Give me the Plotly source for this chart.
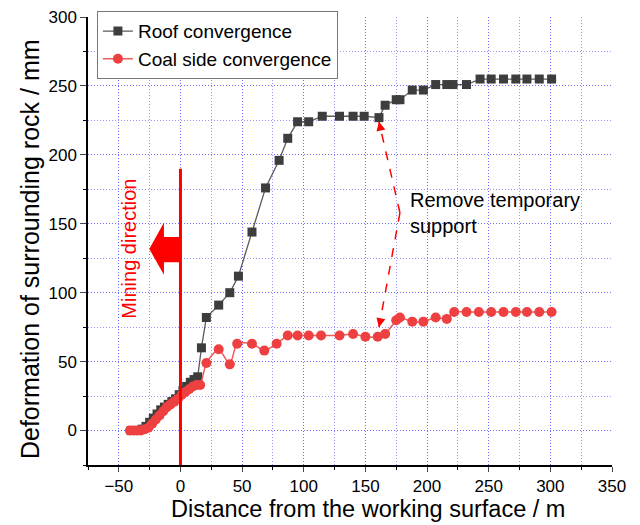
import plotly.graph_objects as go

# ---- data ----
roof_x = [-40, -37, -34, -31, -28, -25, -22, -19, -16, -13, -10, -7, -4, -1, 2, 5, 8, 11, 14,
          17, 21, 31, 40, 47, 58, 69, 80, 87, 95, 104, 115, 129, 140, 149, 161, 166, 175, 178,
          188, 197, 207, 216, 221, 232, 243, 252, 262, 272, 281, 291, 301]
roof_y = [0, 0, 0, 1, 3, 6, 9, 12, 15, 17, 19, 21, 23, 26, 29, 32, 35, 37, 39,
          60, 82, 91, 100, 112, 144, 176, 196, 212, 224, 224, 228, 228, 228, 228, 227, 236, 240, 240,
          247, 247, 251, 251, 251, 251, 255, 255, 255, 255, 255, 255, 255]

coal_x = [-41, -38, -35, -32, -29, -26, -23, -20, -17, -14, -11, -8, -5, -2, 1, 4, 7, 10, 13, 16,
          21, 31, 40, 46, 58, 68, 78, 87, 95, 104, 114, 129, 140, 150, 160, 166, 175, 178,
          188, 197, 207, 216, 222, 232, 242, 252, 262, 272, 281, 291, 301]
coal_y = [0, 0, 0, 0, 1, 2, 5, 8, 11, 14, 17, 19, 21, 23, 26, 28, 30, 32, 33, 33,
          49, 59, 48, 63, 63, 58, 63, 69, 69, 69, 69, 69, 70, 68, 68, 70, 80, 82,
          79, 79, 82, 81, 86, 86, 86, 86, 86, 86, 86, 86, 86]

x_ticks = [-50, 0, 50, 100, 150, 200, 250, 300, 350]
y_ticks = [0, 50, 100, 150, 200, 250, 300]

# annotation anchors (data units)
bend = (178, 158)
tip_top = (161, 224)
tip_bot = (161, 75)
mining_line_top = 190

FONT = "Arial, Liberation Sans, sans-serif"
RED = "rgb(255,0,0)"
GRID = "rgba(80,80,255,0.6)"

fig = go.Figure()
fig.add_trace(go.Scatter(
    x=roof_x, y=roof_y, mode="lines+markers", name="Roof convergence",
    line=dict(color="#5a5a5a", width=1.3),
    marker=dict(symbol="square", size=9, color="#3d3d3d"),
))
fig.add_trace(go.Scatter(
    x=coal_x, y=coal_y, mode="lines+markers", name="Coal side convergence",
    line=dict(color="#f05a5a", width=1.5, shape="spline", smoothing=0.6),
    marker=dict(symbol="circle", size=10, color="#ee4040"),
))

grid = dict(showgrid=True, gridcolor=GRID, griddash="1px,2px", gridwidth=1)

fig.update_xaxes(
    range=[-75, 350], tickvals=x_ticks, ticks="outside", ticklen=5, tickwidth=1.3,
    showline=True, linecolor="black", linewidth=1.5, zeroline=False, automargin=False,
    tickfont=dict(family=FONT, size=17, color="black"),
    minor=dict(dtick=25, tick0=0, ticks="outside", ticklen=3, tickcolor="black",
               showgrid=True, gridcolor=GRID, griddash="1px,2px"),
    **grid,
)
fig.update_yaxes(
    range=[-25, 300], tickvals=y_ticks, ticks="outside", ticklen=6, tickwidth=1.3,
    showline=True, linecolor="black", linewidth=1.5, zeroline=False, automargin=False,
    tickfont=dict(family=FONT, size=17, color="black"),
    minor=dict(dtick=25, tick0=0, ticks="outside", ticklen=3, tickcolor="black",
               showgrid=True, gridcolor=GRID, griddash="1px,2px"),
    **grid,
)

# axis titles
fig.add_annotation(xref="paper", yref="paper", x=0.534, y=-0.0982, yanchor="middle",
                   text="Distance from the working surface / m", showarrow=False,
                   font=dict(family=FONT, size=23.5, color="black"))
fig.add_annotation(xref="paper", yref="paper", x=-0.1107, y=0.482, xanchor="center",
                   text="Deformation of surrounding rock / mm", showarrow=False, textangle=-90,
                   font=dict(family=FONT, size=25, color="black"))

# Mining direction line + arrow
fig.add_shape(type="line", x0=0, x1=0, y0=-25, y1=mining_line_top,
              line=dict(color=RED, width=3), layer="above")
fig.add_shape(type="path",
              path="M 0,140.4 L -13.4,140.4 L -13.4,150.9 L -25.3,131.7 L -13.4,113 L -13.4,122 L 0,122 Z",
              fillcolor=RED, line=dict(color=RED, width=0), layer="above")
fig.add_annotation(x=-41.7, y=132, text="Mining direction", textangle=-90, showarrow=False,
                   font=dict(family=FONT, size=20, color=RED))

# Remove temporary support dashed arrows
for tip in (tip_top, tip_bot):
    fig.add_shape(type="line", x0=bend[0], y0=bend[1], x1=tip[0], y1=tip[1],
                  line=dict(color=RED, width=1.5, dash="dash"), layer="above")
fig.add_annotation(x=tip_top[0], y=tip_top[1], ax=2, ay=9, axref="pixel", ayref="pixel",
                   text="", showarrow=True, arrowhead=2, arrowsize=1.2, arrowwidth=1.5, arrowcolor=RED)
fig.add_annotation(x=tip_bot[0], y=tip_bot[1], ax=2, ay=-9, axref="pixel", ayref="pixel",
                   text="", showarrow=True, arrowhead=2, arrowsize=1.2, arrowwidth=1.5, arrowcolor=RED)
fig.add_annotation(x=184.4, y=158, text="Remove temporary<br>support", showarrow=False,
                   xanchor="left", align="left",
                   font=dict(family=FONT, size=20, color="black"))

fig.update_layout(
    width=640, height=525,
    margin=dict(l=88, r=28, t=17, b=60, autoexpand=False),
    plot_bgcolor="white", paper_bgcolor="white",
    font=dict(family=FONT, color="black"),
    legend=dict(x=0.017, y=1.013, xanchor="left", yanchor="top",
                bgcolor="white", bordercolor="#777777", borderwidth=1,
                font=dict(family=FONT, size=19, color="black"),
                tracegroupgap=0, itemwidth=30),
)

fig.write_html("out.html")
